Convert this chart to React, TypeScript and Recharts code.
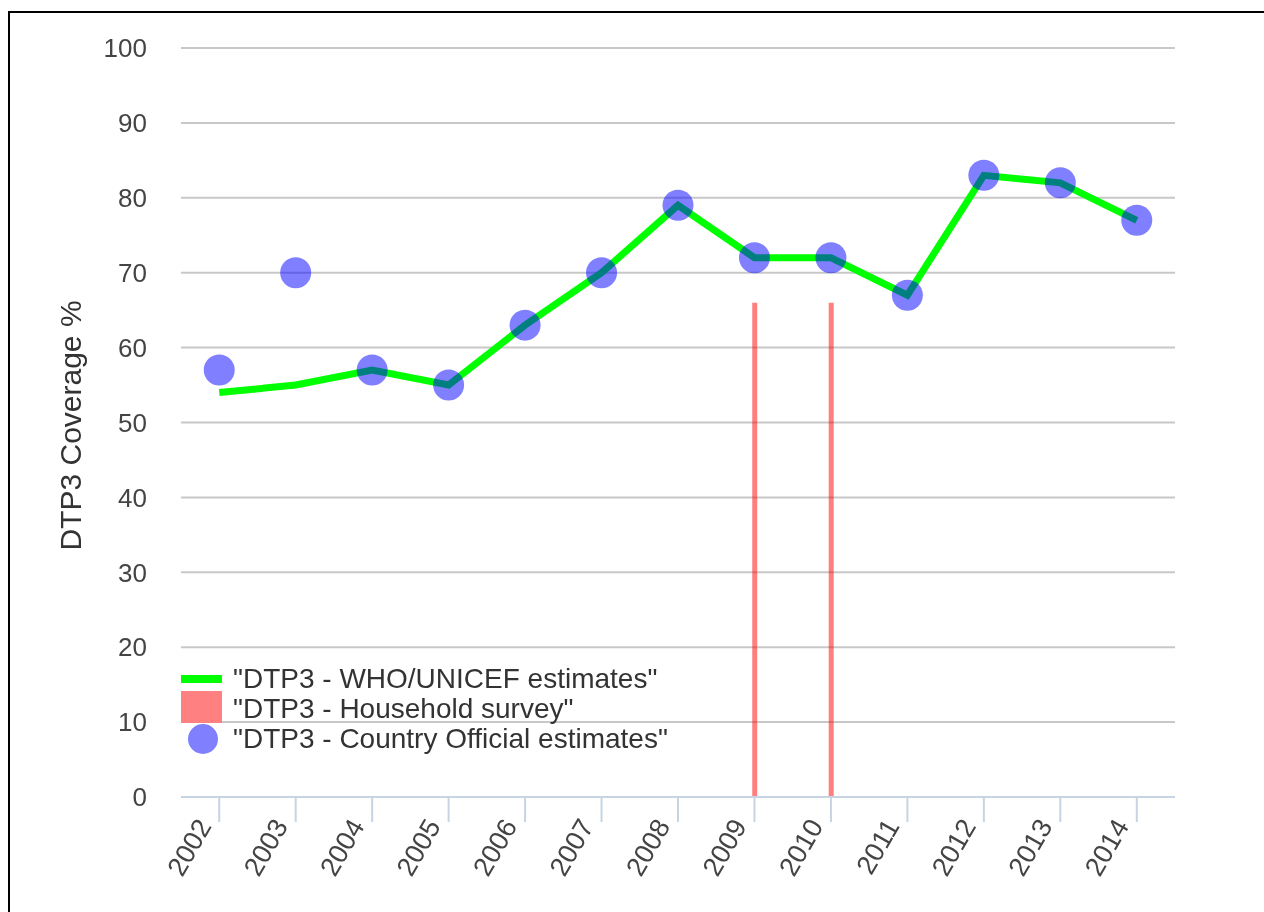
import React from 'react';
import {
  Bar,
  CartesianGrid,
  ComposedChart,
  Legend,
  Line,
  Scatter,
  XAxis,
  YAxis
} from 'recharts';

const years = ['2002', '2003', '2004', '2005', '2006', '2007', '2008', '2009', '2010', '2011', '2012', '2013', '2014'];
const whoUnicef = [54, 55, 57, 55, 63, 70, 79, 72, 72, 67, 83, 82, 77];
const householdSurvey = [null, null, null, null, null, null, null, 66, 66, null, null, null, null];
const countryOfficial = [57, 70, 57, 55, 63, 70, 79, 72, 72, 67, 83, 82, 77];
const yTicks = [0, 10, 20, 30, 40, 50, 60, 70, 80, 90, 100];

const LABELS = {
  who: '"DTP3 - WHO/UNICEF estimates"',
  survey: '"DTP3 - Household survey"',
  official: '"DTP3 - Country Official estimates"'
};

const data = years.map((year, i) => ({
  year,
  who: whoUnicef[i],
  survey: householdSurvey[i],
  official: countryOfficial[i]
}));

const FONT = '"Liberation Sans", Arial, sans-serif';
const TEXT = '#444';
const AXIS = '#c6d4e4';

function XTick({ x, y, payload }: any) {
  const px = x - 7;
  const py = y + 2;
  return (
    <text
      x={px}
      y={py}
      transform={`rotate(-60, ${px}, ${py})`}
      textAnchor="end"
      fontSize={27}
      fontFamily={FONT}
      fill={TEXT}
    >
      {payload.value}
    </text>
  );
}

function YTitle({ viewBox }: any) {
  const cx = 62;
  const cy = viewBox.y + viewBox.height / 2 + 3;
  return (
    <text
      x={cx}
      y={cy}
      transform={`rotate(-90, ${cx}, ${cy})`}
      textAnchor="middle"
      dominantBaseline="central"
      fontSize={30}
      fontFamily={FONT}
      fill="#333"
    >
      DTP3 Coverage %
    </text>
  );
}

function Dot({ cx, cy }: any) {
  if (cx == null || cy == null) return null;
  return <circle cx={cx} cy={cy} r={15.5} fill="#0000ff" fillOpacity={0.5} />;
}

function LegendBox() {
  const row: React.CSSProperties = {
    display: 'flex',
    alignItems: 'center',
    height: 30,
    whiteSpace: 'nowrap'
  };
  const swatch: React.CSSProperties = {
    width: 52,
    display: 'flex',
    alignItems: 'center',
    justifyContent: 'flex-start'
  };
  return (
    <div style={{ fontFamily: FONT, fontSize: 28, color: '#333', lineHeight: '30px' }}>
      <div style={row}>
        <div style={swatch}>
          <div style={{ width: 41, height: 8, background: '#00ff00' }} />
        </div>
        {LABELS.who}
      </div>
      <div style={row}>
        <div style={swatch}>
          <div style={{ width: 41, height: 32, background: '#ff8080', marginTop: -4 }} />
        </div>
        {LABELS.survey}
      </div>
      <div style={row}>
        <div style={swatch}>
          <div
            style={{
              width: 30,
              height: 30,
              marginLeft: 7,
              borderRadius: '50%',
              background: '#8080ff'
            }}
          />
        </div>
        {LABELS.official}
      </div>
    </div>
  );
}

export default function App() {
  return (
    <div style={{ position: 'relative', width: 1248, height: 896, overflow: 'hidden' }}>
      <div
        style={{
          position: 'fixed',
          top: 11,
          left: 8,
          width: 1256,
          height: 901,
          borderTop: '2px solid #000',
          borderLeft: '2px solid #000',
          pointerEvents: 'none'
        }}
      />
      <ComposedChart
        width={1248}
        height={896}
        data={data}
        margin={{ top: 40, right: 81, bottom: 0, left: 0 }}
      >
        <CartesianGrid horizontal vertical={false} stroke="#c8c8c8" strokeWidth={2} />
        <XAxis
          dataKey="year"
          height={107}
          interval={0}
          tickSize={25}
          tickMargin={2}
          stroke={AXIS}
          strokeWidth={2}
          tick={<XTick />}
        />
        <YAxis
          width={173}
          domain={[0, 100]}
          ticks={yTicks}
          interval={0}
          axisLine={false}
          tickLine={false}
          tickMargin={28}
          tick={{ fontSize: 26, fontFamily: FONT, fill: TEXT }}
          label={<YTitle />}
        />
        <Legend
          layout="vertical"
          align="center"
          verticalAlign="middle"
          wrapperStyle={{ top: 656, left: 173, width: 'auto' }}
          content={<LegendBox />}
        />
        <Bar
          dataKey="survey"
          name={LABELS.survey}
          barSize={5}
          fill="#ff0000"
          fillOpacity={0.5}
          isAnimationActive={false}
        />
        <Line
          dataKey="who"
          name={LABELS.who}
          stroke="#00ff00"
          strokeWidth={7}
          dot={false}
          activeDot={false}
          type="linear"
          isAnimationActive={false}
        />
        <Scatter
          dataKey="official"
          name={LABELS.official}
          shape={<Dot />}
          isAnimationActive={false}
        />
      </ComposedChart>
    </div>
  );
}
